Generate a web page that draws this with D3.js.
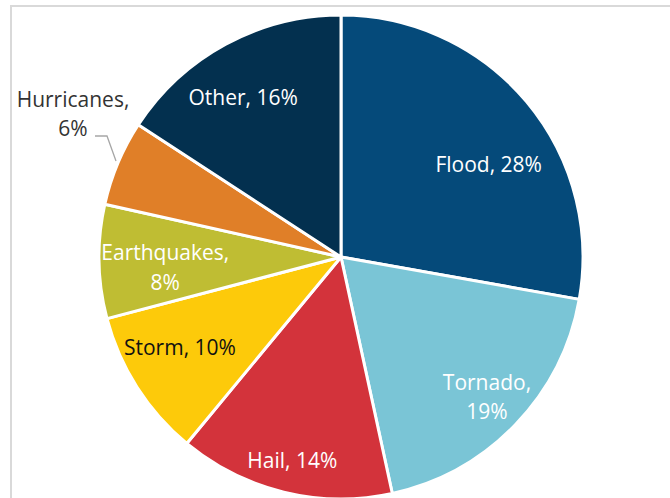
<!DOCTYPE html>
<html lang="en">
<head>
<meta charset="UTF-8">
<title>Disaster share pie</title>
<script src="https://d3js.org/d3.v7.min.js"></script>
<style>
    body { margin: 0; padding: 0; overflow: hidden; background: #fff; }
    svg { display: block; }
    .slice-label { font-family: "Open Sans", Lato, sans-serif; font-size: 21px; text-anchor: middle; }
</style>
</head>
<body>
<script>
    // data (clockwise from 12 o'clock)
    const categories = ["Flood", "Tornado", "Hail", "Storm", "Earthquakes", "Hurricanes", "Other"];
    const shares = [27.8, 18.8, 14.4, 9.9, 7.6, 5.7, 15.8];
    const colors = ["#054a7a", "#7ac5d6", "#d3333b", "#fdca0a", "#bfbd33", "#e07f28", "#03304f"];
    const textColors = ["#fff", "#fff", "#fff", "#111", "#fff", "#333", "#fff"];

    const width = 670, height = 498;
    const cx = 341, cy = 257, radius = 242;

    const svg = d3.select("body").append("svg")
        .attr("width", width)
        .attr("height", height);

    // chart frame (only top and left edges visible in the crop)
    svg.append("rect")
        .attr("x", 11).attr("y", 6)
        .attr("width", 700).attr("height", 600)
        .attr("fill", "none")
        .attr("stroke", "#d9d9d9")
        .attr("stroke-width", 2);

    const data = categories.map((c, i) => ({ name: c, value: shares[i], color: colors[i], text: textColors[i] }));

    const pie = d3.pie().value(d => d.value).sort(null);
    const arcs = pie(data);

    const arc = d3.arc().innerRadius(0).outerRadius(radius);

    const g = svg.append("g").attr("transform", `translate(${cx},${cy})`);

    g.selectAll("path")
        .data(arcs)
        .enter().append("path")
        .attr("d", arc)
        .attr("fill", d => d.data.color)
        .attr("stroke", "#fff")
        .attr("stroke-width", 3)
        .attr("stroke-linejoin", "round");

    // labels: inside at ~0.78r, small nudges like excel's best fit
    const labelArc = d3.arc().innerRadius(radius * 0.78).outerRadius(radius * 0.78);
    const nudge = {
        Flood: [3, 29], Tornado: [10, 9], Hail: [-4, 20], Storm: [-2, -11],
        Earthquakes: [13, 7], Other: [-8, 7]
    };
    const twoLine = { Tornado: true, Earthquakes: true, Hurricanes: true };
    const lineGap = 29.5;

    arcs.forEach(d => {
        const name = d.data.name;
        const pct = Math.round(d.data.value) + "%";
        let x, y;
        if (name === "Hurricanes") {
            // outside label with leader line
            x = -268; y = -143;
            const p = d3.arc().innerRadius(radius).outerRadius(radius).centroid(d);
            g.append("polyline")
                .attr("points", `${x + 22},${-121} ${x + 34},${-121} ${p[0] - 2},${p[1] - 2}`)
                .attr("fill", "none")
                .attr("stroke", "#a6a6a6")
                .attr("stroke-width", 1.3);
        } else {
            const c = labelArc.centroid(d);
            const n = nudge[name] || [0, 0];
            x = c[0] + n[0]; y = c[1] + n[1];
        }
        const t = g.append("text")
            .attr("class", "slice-label")
            .attr("fill", d.data.text);
        if (twoLine[name]) {
            t.append("tspan").attr("x", x).attr("y", y - lineGap / 2).attr("dy", "0.35em").text(name + ",");
            t.append("tspan").attr("x", x).attr("y", y + lineGap / 2).attr("dy", "0.35em").text(pct);
        } else {
            t.attr("x", x).attr("y", y).attr("dy", "0.35em").text(name + ", " + pct);
        }
    });
</script>
</body>
</html>
